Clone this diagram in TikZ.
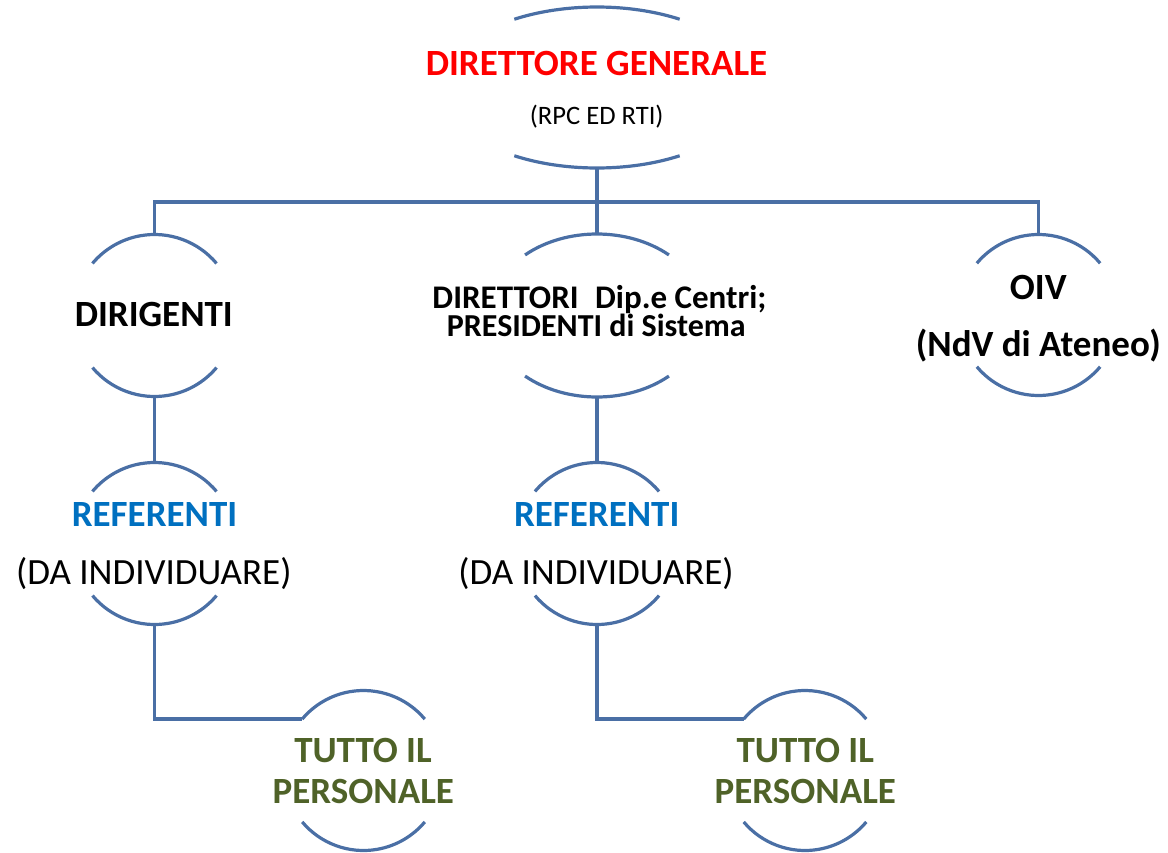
\documentclass[tikz,border=0pt]{standalone}
\usepackage{fontspec}
\setmainfont{Carlito}
\usetikzlibrary{shapes.geometric}
\definecolor{lineblue}{HTML}{4A6FA5}
\definecolor{dgred}{HTML}{FF0000}
\definecolor{refblue}{HTML}{0070C0}
\definecolor{olivegreen}{HTML}{4F6228}
\begin{document}
\begin{tikzpicture}[x=1pt,y=1pt,
  ring/.style={circle,minimum size=#1,inner sep=0pt,outer sep=0pt},
  oval/.style={ellipse,inner sep=0pt,outer sep=0pt},
  arcline/.style={draw=lineblue,line width=3.2pt},
  conn/.style={draw=lineblue,line width=3.2pt},
  lbl/.style={anchor=base,inner sep=0pt,outer sep=0pt},
  bA/.style={font=\fontsize{37}{40}\selectfont\bfseries},
  rA/.style={font=\fontsize{37}{40}\selectfont},
  bB/.style={font=\fontsize{32}{34}\selectfont\bfseries},
  bBw/.style={font=\fontsize{33}{34}\selectfont\bfseries},
  rC/.style={font=\fontsize{26.6}{30}\selectfont},
]
\useasboundingbox (0,0) rectangle (1168,-852);

% shapes
\node[oval,minimum width=312,minimum height=161] (dg) at (597,-87.5) {};
\node[ring=162] (dir) at (154.5,-315.5) {};
\node[oval,minimum width=215,minimum height=163] (dip) at (597,-315.5) {};
\node[ring=161] (oiv) at (1038.5,-315) {};
\node[ring=162] (ref1) at (154.5,-543.5) {};
\node[ring=162] (ref2) at (597,-543.5) {};
\node[ring=160] (tp1) at (363.5,-770.5) {};
\node[ring=160] (tp2) at (805,-770.5) {};

% arcs
\draw[arcline] ([shift={(58:156 and 80.5)}]dg.center) arc[start angle=58,end angle=122,x radius=156,y radius=80.5];
\draw[arcline] ([shift={(238:156 and 80.5)}]dg.center) arc[start angle=238,end angle=302,x radius=156,y radius=80.5];
\draw[arcline] ([shift={(48:107.5 and 81.5)}]dip.center) arc[start angle=48,end angle=132,x radius=107.5,y radius=81.5];
\draw[arcline] ([shift={(228:107.5 and 81.5)}]dip.center) arc[start angle=228,end angle=312,x radius=107.5,y radius=81.5];
\foreach \n/\r in {dir/81,oiv/80.5,ref1/81,ref2/81,tp1/80,tp2/80}{
  \draw[arcline] (\n.40) arc[start angle=40,end angle=140,radius=\r];
  \draw[arcline] (\n.220) arc[start angle=220,end angle=320,radius=\r];
}

% connectors
\coordinate (bus) at (597,-202);
\draw[conn] (dg.south) -- (dip.north);
\draw[conn] (dir.north) -- (dir.north |- bus) -- (oiv.north |- bus) -- (oiv.north);
\draw[conn] (dir.south) -- (ref1.north);
\draw[conn] (dip.south) -- (ref2.north);
\draw[conn] (ref1.south) |- (tp1.140);
\draw[conn] (ref2.south) |- (tp2.140);

% texts
\node[lbl,bA,text=dgred] (dgT1) at (596.5,-75.9) {DIRETTORE GENERALE};
\node[lbl,rC] (dgT2) at (596.7,-124.6) {(RPC ED RTI)};
\node[lbl,bA] (dirT) at (153.8,-326.9) {DIRIGENTI};
\node[lbl,bBw] (dipT1) at (599.5,-308) {DIRETTORI\hspace{0.5em}Dip.e Centri;};
\node[lbl,bB] (dipT2) at (596.3,-336) {PRESIDENTI di Sistema};
\node[lbl,bA] (oivT1) at (1038.3,-299.7) {OIV};
\node[lbl,bA] (oivT2) at (1038.3,-356.1) {(NdV di Ateneo)};
\node[lbl,bA,text=refblue] (ref1T1) at (154.5,-526.9) {REFERENTI};
\node[lbl,rA] (ref1T2) at (153.8,-584.7) {(DA INDIVIDUARE)};
\node[lbl,bA,text=refblue] (ref2T1) at (596.7,-526.9) {REFERENTI};
\node[lbl,rA] (ref2T2) at (596,-584.7) {(DA INDIVIDUARE)};
\node[lbl,bA,text=olivegreen] (tp1T1) at (363,-762.4) {TUTTO IL};
\node[lbl,bA,text=olivegreen] (tp1T2) at (363.3,-803.6) {PERSONALE};
\node[lbl,bA,text=olivegreen] (tp2T1) at (805.3,-762.4) {TUTTO IL};
\node[lbl,bA,text=olivegreen] (tp2T2) at (805.3,-803.6) {PERSONALE};
\end{tikzpicture}
\end{document}
